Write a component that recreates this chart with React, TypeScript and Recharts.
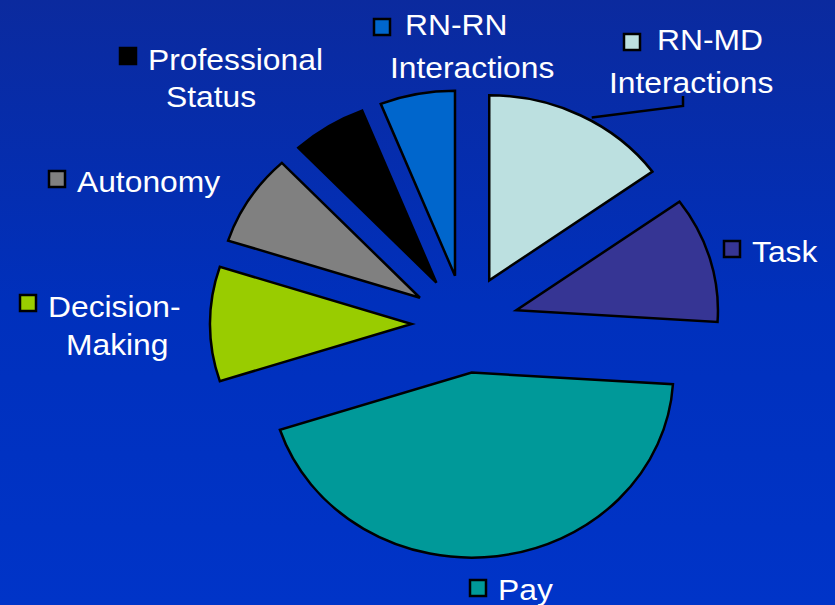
import React from "react";
import { PieChart, Pie, Cell, Sector } from "recharts";

const CATEGORIES = [
  "RN-MD Interactions",
  "Task",
  "Pay",
  "Decision-Making",
  "Autonomy",
  "Professional Status",
  "RN-RN Interactions",
];
const VALUES = [15, 11, 44, 10, 8, 6, 6];
const COLORS = ["#bce0e0", "#363594", "#009999", "#99cc00", "#808080", "#000000", "#0066cc"];

// how each label is broken into lines
const LABEL_LINES = [
  ["RN-MD", "Interactions"],
  ["Task"],
  ["Pay"],
  ["Decision-", "Making"],
  ["Autonomy"],
  ["Professional", "Status"],
  ["RN-RN", "Interactions"],
];

// label placement (marker box + text lines), page pixels
const LABEL_LAYOUT = [
  { mx: 624, my: 34, lines: [[657, 50], [609, 93]] },
  { mx: 724, my: 241, lines: [[752, 262]] },
  { mx: 470, my: 580, lines: [[498, 600]] },
  { mx: 20, my: 295, lines: [[48, 317], [66, 355]] },
  { mx: 49, my: 171, lines: [[77, 192]] },
  { mx: 120, my: 48, lines: [[148, 70], [166, 107]] },
  { mx: 374, my: 19, lines: [[405, 35], [390, 78]] },
];

const data = CATEGORIES.map((name, i) => ({ name, value: VALUES[i] }));

const EXPLODE = 49;
const STRETCH_X = 1.09; // the original slide is a bit wider than tall
const RAD = Math.PI / 180;

const explodedCenter = (cx: number, cy: number, midAngle: number) => ({
  x: cx + STRETCH_X * EXPLODE * Math.cos(-midAngle * RAD),
  y: cy + EXPLODE * Math.sin(-midAngle * RAD),
});

const ExplodedSector = (props: any) => {
  const { cx, cy, midAngle, innerRadius, outerRadius, startAngle, endAngle, fill } = props;
  const c = explodedCenter(cx, cy, midAngle);
  return (
    <g transform={`translate(${c.x},${c.y}) scale(${STRETCH_X},1) translate(${-c.x},${-c.y})`}>
      <Sector
        cx={c.x}
        cy={c.y}
        innerRadius={innerRadius}
        outerRadius={outerRadius}
        startAngle={startAngle}
        endAngle={endAngle}
        fill={fill}
        stroke="#000"
        strokeWidth={2.5}
        vectorEffect="non-scaling-stroke"
      />
    </g>
  );
};

const renderLabel = (props: any) => {
  const { index, cx, cy, midAngle, outerRadius, startAngle } = props;
  const lay = LABEL_LAYOUT[index];
  const lines = LABEL_LINES[index];
  let leader = null;
  if (index === 0) {
    // leader line from the RN-MD label to its slice edge
    const c = explodedCenter(cx, cy, midAngle);
    const a = (startAngle - 30) * RAD;
    const ex = c.x + STRETCH_X * (outerRadius + 3) * Math.cos(-a);
    const ey = c.y + (outerRadius + 3) * Math.sin(-a);
    leader = (
      <polyline
        points={`${ex},${ey} 683,106 683,96`}
        fill="none"
        stroke="#000"
        strokeWidth={2.5}
      />
    );
  }
  return (
    <g key={`lbl-${index}`}>
      {leader}
      <rect x={lay.mx} y={lay.my} width={16} height={16} fill={COLORS[index]} stroke="#000" strokeWidth={2.5} />
      {lines.map((t, j) => {
        const [tx, ty] = lay.lines[j];
        return (
          <text
            key={j}
            x={tx}
            y={ty}
            transform={`translate(${tx},0) scale(1.06,1) translate(${-tx},0)`}
            fill="#ffffff"
            fontSize={30}
            fontFamily="'Liberation Sans', Arial, sans-serif"
          >
            {t}
          </text>
        );
      })}
    </g>
  );
};

export default function App() {
  return (
    <div
      style={{
        position: "absolute",
        left: 0,
        top: 0,
        width: 835,
        height: 605,
        background: "linear-gradient(to bottom, #0b2a9e 0%, #0030bc 50%, #0034c8 100%)",
        overflow: "hidden",
      }}
    >
      <PieChart width={835} height={605}>
        <Pie
          data={data}
          dataKey="value"
          nameKey="name"
          cx={460}
          cy={319}
          innerRadius={0}
          outerRadius={185}
          startAngle={90}
          endAngle={-270}
          stroke="#000"
          shape={ExplodedSector}
          label={renderLabel}
          labelLine={false}
          isAnimationActive={false}
        >
          {data.map((_, i) => (
            <Cell key={i} fill={COLORS[i]} />
          ))}
        </Pie>
      </PieChart>
    </div>
  );
}
